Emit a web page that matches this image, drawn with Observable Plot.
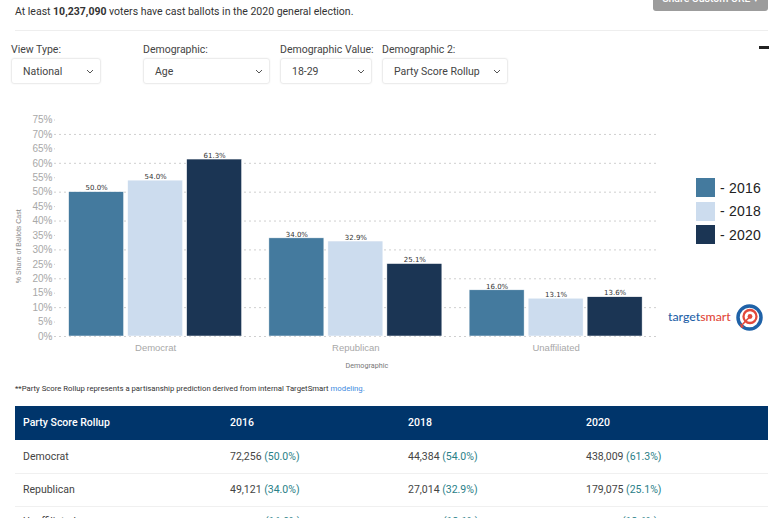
<!DOCTYPE html>
<html><head><meta charset="utf-8">
<script src="https://cdn.jsdelivr.net/npm/d3@7"></script>
<script src="https://cdn.jsdelivr.net/npm/@observablehq/plot@0.6"></script>
<style>
html,body{margin:0;padding:0;width:778px;height:518px;overflow:hidden;background:#fff;font-family:Roboto,"Noto Sans",sans-serif;color:#333}
.a{position:absolute;white-space:nowrap}
.sel{position:absolute;top:58px;height:26px;border:1px solid #ececec;border-radius:3px;box-sizing:border-box;font-size:10.5px;line-height:25px;padding-left:11px;color:#444;box-shadow:0 0 2px #f0f0f0}
.sel svg{position:absolute;right:6px;top:10px}
.lab{position:absolute;top:43px;font-size:10.5px;line-height:13px;color:#444;white-space:nowrap}
.leg{position:absolute;left:696px;width:19px;height:19px}
.legt{position:absolute;left:720px;font:14px/19px "Liberation Sans",sans-serif;letter-spacing:.2px;color:#222;white-space:nowrap}
.c{position:absolute;font-size:10.5px;line-height:14px;color:#444;white-space:nowrap}
.c i{font-style:normal;color:#2a8088}
</style></head><body>
<script>
const categories = ["Democrat","Republican","Unaffiliated"];
const years = ["2016","2018","2020"];
const share2016 = [50.0,34.0,16.0];
const share2018 = [54.0,32.9,13.1];
const share2020 = [61.3,25.1,13.6];
const colors = ["#447a9e","#ccdcee","#1b3554"];
const yTicks = [0,5,10,15,20,25,30,35,40,45,50,55,60,65,70,75];
const majorTicks = [0,10,20,30,40,50,60,70];
const minorTicks = [5,15,25,35,45,55,65,75];
const tableHead = ["Party Score Rollup","2016","2018","2020"];
const rows = [
 ["Democrat","72,256 <i>(50.0%)</i>","44,384 <i>(54.0%)</i>","438,009 <i>(61.3%)</i>"],
 ["Republican","49,121 <i>(34.0%)</i>","27,014 <i>(32.9%)</i>","179,075 <i>(25.1%)</i>"]
];
const series = [share2016,share2018,share2020];
const data = categories.flatMap((c,i)=>years.map((y,j)=>({category:c,year:y,value:series[j][i]})));

const add=(html)=>{const d=document.createElement("div");d.innerHTML=html;while(d.firstChild)document.body.appendChild(d.firstChild)};
const chev='<svg width="8" height="5" viewBox="0 0 8 5"><path d="M1 1l3 3 3-3" fill="none" stroke="#555" stroke-width="1"/></svg>';
const colX=[23,230,408,586];
add(`
<div class="a" style="left:15px;top:5px;font-size:10.5px;line-height:14px">At least <b>10,237,090</b> voters have cast ballots in the 2020 general election.</div>
<div class="a" style="left:653px;top:-13px;width:115px;height:24px;background:#9c9c9c;border-radius:3px;color:#fff;font-size:10.5px;text-align:center;line-height:24px;font-weight:500">Share Custom URL \u25be</div>
<div class="a" style="left:15px;top:30px;width:753px;height:1px;background:#eee"></div>
<div class="a" style="left:759px;top:46px;width:10px;height:3px;background:#222"></div>
<div class="lab" style="left:11px">View Type:</div><div class="lab" style="left:143px">Demographic:</div><div class="lab" style="left:280px">Demographic Value:</div><div class="lab" style="left:382px">Demographic 2:</div>
<div class="sel" style="left:11px;width:90px">National ${chev}</div>
<div class="sel" style="left:143px;width:127px">Age ${chev}</div>
<div class="sel" style="left:280px;width:92px">18-29 ${chev}</div>
<div class="sel" style="left:382px;width:126px">Party Score Rollup ${chev}</div>
<div class="a" style="left:15px;top:383px;font-size:7.75px;line-height:12px;color:#333">**Party Score Rollup represents a partisanship prediction derived from internal TargetSmart <span style="color:#3d8be0">modeling.</span></div>
<div class="a" style="left:15px;top:406px;width:753px;height:34px;background:#00356b"></div>
<div class="a" style="left:15px;top:473px;width:753px;height:1px;background:#f0f0f0"></div>
<div class="a" style="left:15px;top:506px;width:753px;height:1px;background:#f0f0f0"></div>
${tableHead.map((t,i)=>`<div class="c" style="left:${colX[i]}px;top:416px;color:#fff;font-weight:500">${t}</div>`).join("")}
${rows.map((r,k)=>r.map((t,i)=>`<div class="c" style="left:${colX[i]}px;top:${450+33*k}px">${t}</div>`).join("")).join("")}
<div class="c" style="left:23px;top:515px">${categories[2]}</div>
<div class="c" style="left:265px;top:515px"><i>(${share2016[2].toFixed(1)}%)</i></div>
<div class="c" style="left:443px;top:515px"><i>(${share2018[2].toFixed(1)}%)</i></div>
<div class="c" style="left:622px;top:515px"><i>(${share2020[2].toFixed(1)}%)</i></div>
${years.map((y,j)=>`<div class="leg" style="top:${178+23.5*j}px;background:${colors[j]}"></div><div class="legt" style="top:${178.5+23.5*j}px">- ${y}</div>`).join("")}
<div class="a" style="left:668px;top:309px;font:500 12.3px/16px Lato,sans-serif;color:#1f62a8">target<span style="color:#e2493c">smart</span></div>
<svg class="a" style="left:735px;top:303px" width="29" height="29" viewBox="0 0 29 29">
<circle cx="14.5" cy="14.5" r="11.5" fill="#fff" stroke="#1f62a8" stroke-width="3.5"/>
<circle cx="15" cy="13.5" r="6.5" fill="#fff" stroke="#e2493c" stroke-width="2.3"/>
<circle cx="15" cy="13.5" r="2.4" fill="#e2493c"/>
<path d="M15 13.5L7 22" stroke="#e2493c" stroke-width="1.6"/><path d="M5 20l4 4-3 1z" fill="#e2493c"/>
</svg>
`);

const first = () => categories[0];
const chart = Plot.plot({
  width:778, height:270,
  style:{position:"absolute",left:"0",top:"105px",background:"transparent",overflow:"visible"},
  marginLeft:49, marginRight:121, marginTop:14.5, marginBottom:39,
  fx:{domain:categories,range:[55,655.75],padding:0,round:false,label:null},
  x:{domain:years,round:false,paddingInner:0.068,paddingOuter:0.231,axis:null},
  y:{domain:[0,75],label:null,axis:null},
  color:{domain:years,range:colors},
  marks:[
    Plot.ruleY(majorTicks,{fx:first,stroke:"#cfcfcf",strokeWidth:1,strokeDasharray:"2 3",strokeOpacity:1,insetLeft:-6,insetRight:-401.75}),
    Plot.ruleY(minorTicks,{fx:first,stroke:"#cfcfcf",strokeWidth:1,strokeDasharray:"2 3",strokeOpacity:1,insetLeft:-6,insetRight:200.25}),
    Plot.axisY({ticks:yTicks,tickFormat:d=>d+"%",tickSize:0,tickPadding:3,fontSize:10,color:"#a8a8a8",fontFamily:"Liberation Sans",label:null}),
    Plot.axisFx({domain:categories,anchor:"bottom",tickSize:0,tickPadding:8,fontSize:9.5,color:"#a8a8a8",fontFamily:"Liberation Sans",label:null}),
    Plot.barY(data,{fx:"category",x:"year",y:"value",fill:"year",stroke:"#fff",strokeWidth:0.5}),
    Plot.text(data,{fx:"category",x:"year",y:"value",text:d=>d.value.toFixed(1)+"%",dy:-4,fontSize:7,fill:"#333",fontFamily:"DejaVu Sans"}),
    Plot.text(["Demographic"],{fx:()=>categories[1],frameAnchor:"bottom",dy:31,dx:11,fontSize:7.2,fill:"#777",fontFamily:"Roboto"}),
    Plot.text(["% Share of Ballots Cast"],{fx:first,frameAnchor:"left",textAnchor:"middle",dx:-37,dy:18,rotate:-90,fontSize:7,fill:"#888",fontFamily:"Liberation Sans"})
  ]
});
document.body.appendChild(chart);
</script>
</body></html>
